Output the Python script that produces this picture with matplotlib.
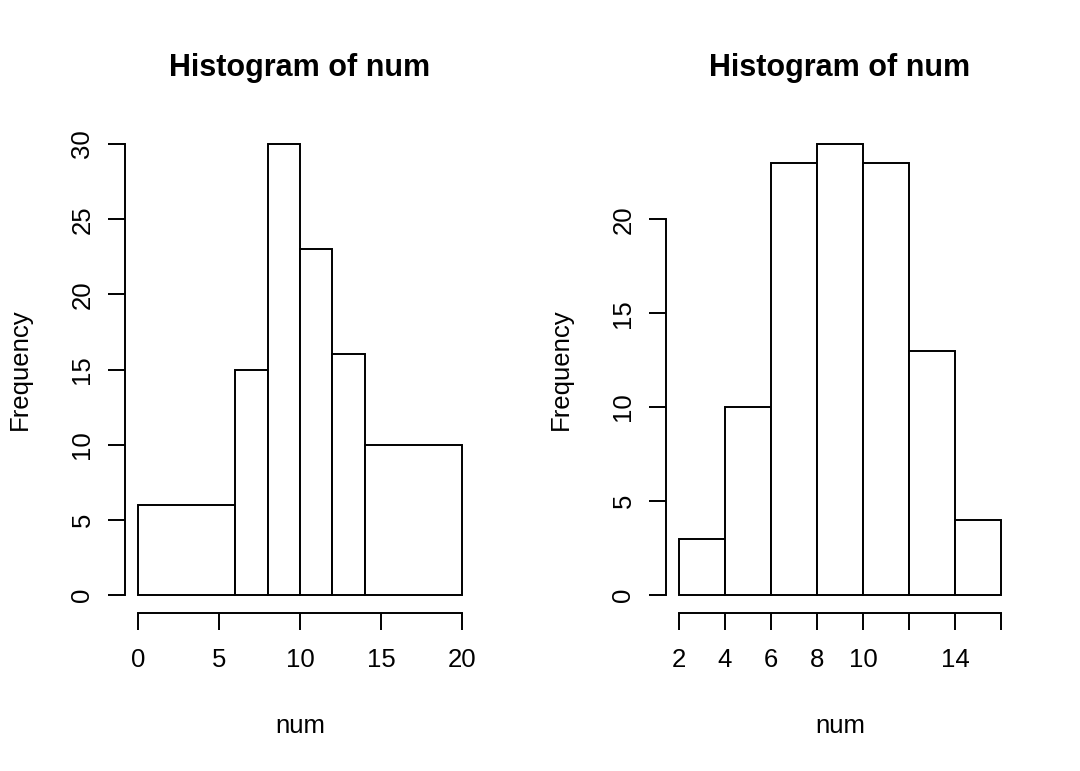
import matplotlib.pyplot as plt

# Histogram data (bin edges and counts)
LEFT_EDGES = [0, 6, 8, 10, 12, 14, 20]
LEFT_COUNTS = [6, 15, 30, 23, 16, 10]
LEFT_XTICKS = [0, 5, 10, 15, 20]
LEFT_XLABELS = ['0', '5', '10', '15', '20']
LEFT_YTICKS = [0, 5, 10, 15, 20, 25, 30]

RIGHT_EDGES = [2, 4, 6, 8, 10, 12, 14, 16]
RIGHT_COUNTS = [3, 10, 23, 24, 23, 13, 4]
RIGHT_XTICKS = [2, 4, 6, 8, 10, 12, 14, 16]
RIGHT_XLABELS = ['2', '4', '6', '8', '10', '', '14', '']
RIGHT_YTICKS = [0, 5, 10, 15, 20]

TITLE = "Histogram of num"
XLABEL = "num"
YLABEL = "Frequency"

plt.rcParams['font.family'] = ['Liberation Sans', 'DejaVu Sans']
LW = 1.4
FS = 18.5


def draw_hist(ax, edges, counts, xticks, xlabels, yticks):
    """
    Draw an R-style base histogram with detached axes
    """
    lefts = edges[:-1]
    widths = [edges[i + 1] - edges[i] for i in range(len(counts))]
    ax.bar(lefts, counts, width=widths, align='edge', facecolor='white',
           edgecolor='black', linewidth=LW)

    # R extends the data range by 4% on each side
    x0, x1 = edges[0], edges[-1]
    dx = (x1 - x0) * 0.04
    ymax = max(counts)
    dy = ymax * 0.04
    ax.set_xlim(x0 - dx, x1 + dx)
    ax.set_ylim(-dy, ymax + dy)

    for side in ['top', 'right']:
        ax.spines[side].set_visible(False)
    ax.spines['left'].set_bounds(yticks[0], yticks[-1])
    ax.spines['bottom'].set_bounds(xticks[0], xticks[-1])
    for side in ['left', 'bottom']:
        ax.spines[side].set_linewidth(LW)

    ax.set_xticks(xticks)
    ax.set_xticklabels(xlabels)
    ax.set_yticks(yticks)
    ax.set_yticklabels([str(v) for v in yticks], rotation=90, va='center')
    ax.tick_params(axis='both', length=12, width=LW, labelsize=FS)
    ax.tick_params(axis='x', pad=13.5)
    ax.tick_params(axis='y', pad=10)

    ax.set_title(TITLE, fontsize=22, fontweight='bold', pad=36)
    ax.set_xlabel(XLABEL, fontsize=FS, labelpad=30)
    ax.set_ylabel(YLABEL, fontsize=FS, labelpad=28)


fig = plt.figure(figsize=(10.8, 7.71), dpi=100)
ax1 = fig.add_axes([125 / 1080, 158 / 771, 350 / 1080, 487 / 771])
ax2 = fig.add_axes([666 / 1080, 158 / 771, 348 / 1080, 487 / 771])

draw_hist(ax1, LEFT_EDGES, LEFT_COUNTS, LEFT_XTICKS, LEFT_XLABELS, LEFT_YTICKS)
draw_hist(ax2, RIGHT_EDGES, RIGHT_COUNTS, RIGHT_XTICKS, RIGHT_XLABELS, RIGHT_YTICKS)

plt.savefig("out.png", dpi=100)
plt.close()
